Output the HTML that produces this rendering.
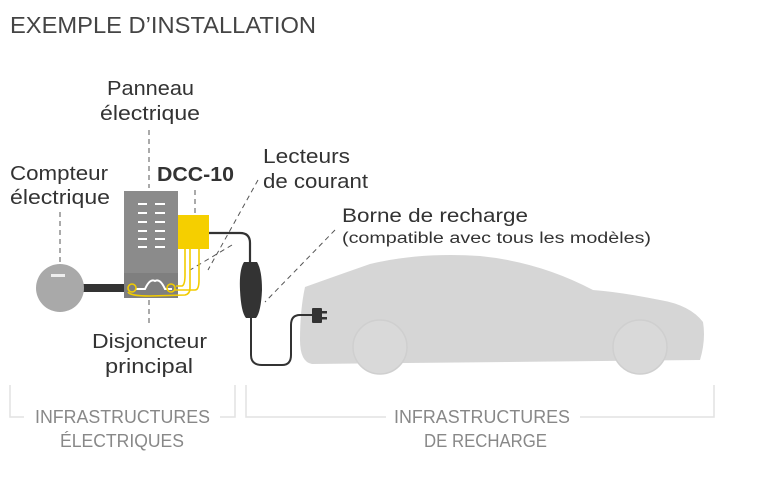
<!DOCTYPE html>
<html><head><meta charset="utf-8"><style>
html,body{margin:0;padding:0;background:#fff;}
svg{display:block;}
text{font-family:"Liberation Sans",sans-serif;}
</style></head><body>
<svg width="770" height="489" viewBox="0 0 770 489" xmlns="http://www.w3.org/2000/svg">
<text x="10" y="33" font-size="23" fill="#444" textLength="306" lengthAdjust="spacingAndGlyphs">EXEMPLE D’INSTALLATION</text>

<!-- car -->
<path d="M305,287 Q300,310 300,340 Q300,362 312,364 L700,360 Q706,340 703,322 Q690,305 660,300 Q620,292 593,290 Q540,262 480,256 Q420,252 370,264 Q330,278 305,287 Z" fill="#d6d6d6"/>
<circle cx="380" cy="347" r="27" fill="#d9d9d9" stroke="#cfcfcf" stroke-width="1.5"/>
<circle cx="640" cy="347" r="27" fill="#d9d9d9" stroke="#cfcfcf" stroke-width="1.5"/>

<!-- dashed leader lines -->
<g stroke="#555" stroke-width="1" stroke-dasharray="5,4" fill="none">
<line x1="60" y1="212" x2="60" y2="262"/>
<line x1="149" y1="130" x2="149" y2="188"/>
<line x1="149" y1="300" x2="149" y2="326"/>
<line x1="195" y1="190" x2="195" y2="213"/>
<line x1="258" y1="180" x2="208" y2="270"/>
<line x1="232" y1="245" x2="190" y2="270"/>
<line x1="335" y1="230" x2="265" y2="302"/>
</g>

<!-- meter -->
<rect x="80" y="284" width="46" height="8" fill="#333"/>
<circle cx="60" cy="288" r="24" fill="#a9a9a9"/>
<rect x="51" y="274" width="14" height="3" fill="#eee"/>

<!-- panel -->
<rect x="124" y="191" width="54" height="107" fill="#8b8b8b"/>
<rect x="124" y="273" width="54" height="25" fill="#7f7f7f"/>
<g stroke="#fff" stroke-width="2">
<line x1="138" y1="204" x2="147" y2="204"/><line x1="155" y1="204" x2="165" y2="204"/>
<line x1="138" y1="213" x2="147" y2="213"/><line x1="155" y1="213" x2="165" y2="213"/>
<line x1="138" y1="222" x2="147" y2="222"/><line x1="155" y1="222" x2="165" y2="222"/>
<line x1="138" y1="231" x2="147" y2="231"/><line x1="155" y1="231" x2="165" y2="231"/>
<line x1="138" y1="239" x2="147" y2="239"/><line x1="155" y1="239" x2="165" y2="239"/>
<line x1="138" y1="247" x2="147" y2="247"/><line x1="155" y1="247" x2="165" y2="247"/>
</g>
<path d="M136,289 L145,289 Q150,278 155,281 Q160,278 165,289 L172,289" stroke="#fff" stroke-width="2" fill="none"/>
<g stroke="#f2cc00" stroke-width="1.6" fill="none">
<circle cx="132" cy="288" r="4"/><circle cx="171" cy="288" r="4"/>
<path d="M128,292 Q130,296 150,296 L185,295 Q190,294 190,288 L190,249"/>
<path d="M175,290 L195,290 Q199,290 199,280 L199,249"/>
<path d="M176,286 L182,286 Q185,285 185,275 L185,249"/>
</g>
<rect x="178" y="215" width="31" height="34" fill="#f5cf00"/>

<!-- cable & charger -->
<path d="M209,233 L240,233 Q250,233 250,243 L250,265" stroke="#333" stroke-width="2.2" fill="none"/>
<path d="M244,262 Q239,270 240,290 Q241,312 246,318 L256,318 Q261,312 262,290 Q262,270 257,262 Z" fill="#333"/>
<path d="M251,318 L251,355 Q251,365 262,365 L282,365 Q291,365 291,355 L291,325 Q291,315 300,315 L313,315" stroke="#333" stroke-width="2" fill="none"/>
<rect x="312" y="308" width="10" height="15" rx="1" fill="#333"/>
<rect x="321" y="311" width="6" height="2.5" fill="#333"/><rect x="321" y="317" width="6" height="2.5" fill="#333"/>

<!-- labels -->
<g fill="#333" font-size="20" lengthAdjust="spacingAndGlyphs">
<text x="107" y="95" textLength="87" lengthAdjust="spacingAndGlyphs">Panneau</text>
<text x="100" y="120" textLength="100" lengthAdjust="spacingAndGlyphs">électrique</text>
<text x="10" y="180" textLength="98" lengthAdjust="spacingAndGlyphs">Compteur</text>
<text x="10" y="204" textLength="100" lengthAdjust="spacingAndGlyphs">électrique</text>
<text x="263" y="163" textLength="87" lengthAdjust="spacingAndGlyphs">Lecteurs</text>
<text x="263" y="188" textLength="105" lengthAdjust="spacingAndGlyphs">de courant</text>
<text x="92" y="348" textLength="115" lengthAdjust="spacingAndGlyphs">Disjoncteur</text>
<text x="105" y="373" textLength="88" lengthAdjust="spacingAndGlyphs">principal</text>
<text x="342" y="222" font-size="19" textLength="186" lengthAdjust="spacingAndGlyphs">Borne de recharge</text>
<text x="342" y="243" font-size="15.5" textLength="309" lengthAdjust="spacingAndGlyphs">(compatible avec tous les modèles)</text>
<text x="157" y="181" font-weight="bold" font-size="20" textLength="77" lengthAdjust="spacingAndGlyphs">DCC-10</text>
</g>

<!-- brackets -->
<g stroke="#e2e2e2" stroke-width="1.5" fill="none">
<path d="M10,385 L10,417 L24,417"/>
<path d="M220,417 L235,417 L235,385"/>
<path d="M246,385 L246,417 L386,417"/>
<path d="M580,417 L714,417 L714,385"/>
</g>
<g fill="#888" font-size="18">
<text x="35" y="423" textLength="175" lengthAdjust="spacingAndGlyphs">INFRASTRUCTURES</text>
<text x="60" y="447" textLength="124" lengthAdjust="spacingAndGlyphs">ÉLECTRIQUES</text>
<text x="394" y="423" textLength="176" lengthAdjust="spacingAndGlyphs">INFRASTRUCTURES</text>
<text x="424" y="447" textLength="123" lengthAdjust="spacingAndGlyphs">DE RECHARGE</text>
</g>
</svg>
</body></html>
